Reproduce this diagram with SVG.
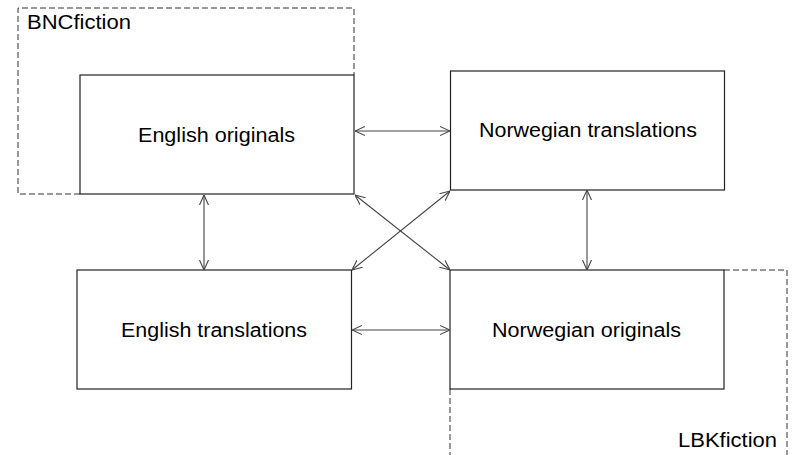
<svg xmlns="http://www.w3.org/2000/svg" width="792" height="455" viewBox="0 0 792 455">
<style>
.box{fill:#fff;stroke:#222;stroke-width:1.2}
.dash{fill:none;stroke:#333;stroke-width:1;stroke-dasharray:6,3}
.lbl{font-family:"Liberation Sans",Arial,sans-serif;font-size:20px;fill:#000;text-anchor:middle}
.corp{font-family:"Liberation Sans",Arial,sans-serif;font-size:20px;fill:#000}
.conn{stroke:#444;stroke-width:1.1;fill:none;marker-start:url(#ah);marker-end:url(#ah)}
</style>
<defs>
<marker id="ah" viewBox="0 0 10 10" refX="10" refY="5" markerWidth="10" markerHeight="10" markerUnits="userSpaceOnUse" orient="auto-start-reverse">
<path d="M0,0.5 L10,5 L0,9.5" fill="none" stroke="#444" stroke-width="1.1"/>
</marker>
</defs>
<g id="BNCfiction">
<path class="dash" d="M80,194 L18,194 L18,8 L354,8 L354,75"/>
<text class="corp" x="27" y="29" textLength="104" lengthAdjust="spacingAndGlyphs">BNCfiction</text>
</g>
<g id="LBKfiction">
<path class="dash" d="M724,270 L787,270 L787,455 M450,389 L450,455"/>
<text class="corp" x="678" y="447" textLength="99" lengthAdjust="spacingAndGlyphs">LBKfiction</text>
</g>
<g id="english-originals">
<rect class="box" x="80" y="75" width="274" height="119"/>
<text class="lbl" x="216.5" y="142" textLength="157" lengthAdjust="spacingAndGlyphs">English originals</text>
</g>
<g id="norwegian-translations">
<rect class="box" x="450.5" y="71" width="274" height="119"/>
<text class="lbl" x="588" y="137" textLength="218" lengthAdjust="spacingAndGlyphs">Norwegian translations</text>
</g>
<g id="english-translations">
<rect class="box" x="77" y="270" width="274.5" height="119"/>
<text class="lbl" x="214" y="337" textLength="186" lengthAdjust="spacingAndGlyphs">English translations</text>
</g>
<g id="norwegian-originals">
<rect class="box" x="450" y="270" width="274" height="119"/>
<text class="lbl" x="586.5" y="337" textLength="189" lengthAdjust="spacingAndGlyphs">Norwegian originals</text>
</g>
<g id="connectors">
<line class="conn" x1="355" y1="131" x2="450" y2="131"/>
<line class="conn" x1="352" y1="330" x2="450" y2="330"/>
<line class="conn" x1="204" y1="195" x2="204" y2="270"/>
<line class="conn" x1="587" y1="190" x2="587" y2="270"/>
<line class="conn" x1="355" y1="195" x2="450" y2="270"/>
<line class="conn" x1="450" y1="191" x2="352" y2="270"/>
</g>
</svg>
